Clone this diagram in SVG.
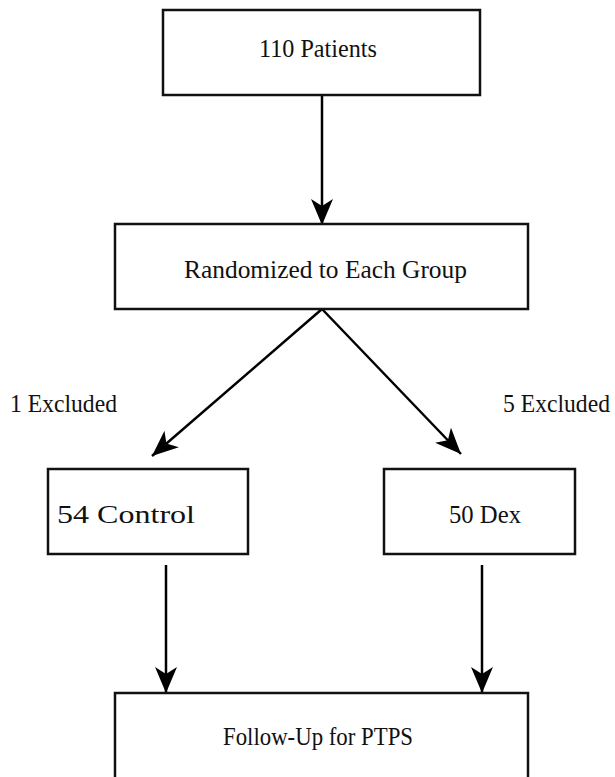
<svg xmlns="http://www.w3.org/2000/svg" width="615" height="777" viewBox="0 0 615 777">
<style>
.box{fill:#fff;stroke:#111;stroke-width:2.5}
.lbl{font-family:"Liberation Serif","Times New Roman",serif;font-size:25px;fill:#111}
.edge{stroke:#000;stroke-width:2.5;fill:none}
</style>
<defs>
<marker id="ah" markerUnits="userSpaceOnUse" markerWidth="28" markerHeight="24" refX="26" refY="11" orient="auto">
<path d="M0,0 L26,11 L0,22 L7,11 Z" fill="#000"/>
</marker>
</defs>
<rect width="615" height="777" fill="#fff"/>
<g id="connectors">
<line class="edge" x1="322" y1="95" x2="322" y2="225" marker-end="url(#ah)"/>
<line class="edge" x1="322" y1="309" x2="152" y2="456" marker-end="url(#ah)"/>
<line class="edge" x1="322" y1="309" x2="461" y2="454" marker-end="url(#ah)"/>
<line class="edge" x1="166" y1="565" x2="166" y2="693" marker-end="url(#ah)"/>
<line class="edge" x1="482" y1="565" x2="482" y2="693" marker-end="url(#ah)"/>
</g>
<g id="patients">
<rect class="box" x="163" y="10" width="317" height="85"/>
<text class="lbl" x="259" y="57" textLength="118" lengthAdjust="spacingAndGlyphs">110 Patients</text>
</g>
<g id="randomized">
<rect class="box" x="115" y="224" width="413" height="85"/>
<text class="lbl" x="184" y="278" textLength="283" lengthAdjust="spacingAndGlyphs">Randomized to Each Group</text>
</g>
<g id="excluded1">
<text class="lbl" x="10" y="412" textLength="107" lengthAdjust="spacingAndGlyphs">1 Excluded</text>
</g>
<g id="excluded5">
<text class="lbl" x="503" y="412" textLength="107" lengthAdjust="spacingAndGlyphs">5 Excluded</text>
</g>
<g id="control">
<rect class="box" x="48" y="469" width="200" height="85"/>
<text class="lbl" x="57" y="523" textLength="138" lengthAdjust="spacingAndGlyphs">54 Control</text>
</g>
<g id="dex">
<rect class="box" x="384" y="469" width="191" height="85"/>
<text class="lbl" x="449" y="523" textLength="72" lengthAdjust="spacingAndGlyphs">50 Dex</text>
</g>
<g id="followup">
<rect class="box" x="115" y="693" width="413" height="100"/>
<text class="lbl" x="223" y="745" textLength="190" lengthAdjust="spacingAndGlyphs">Follow-Up for PTPS</text>
</g>
</svg>
